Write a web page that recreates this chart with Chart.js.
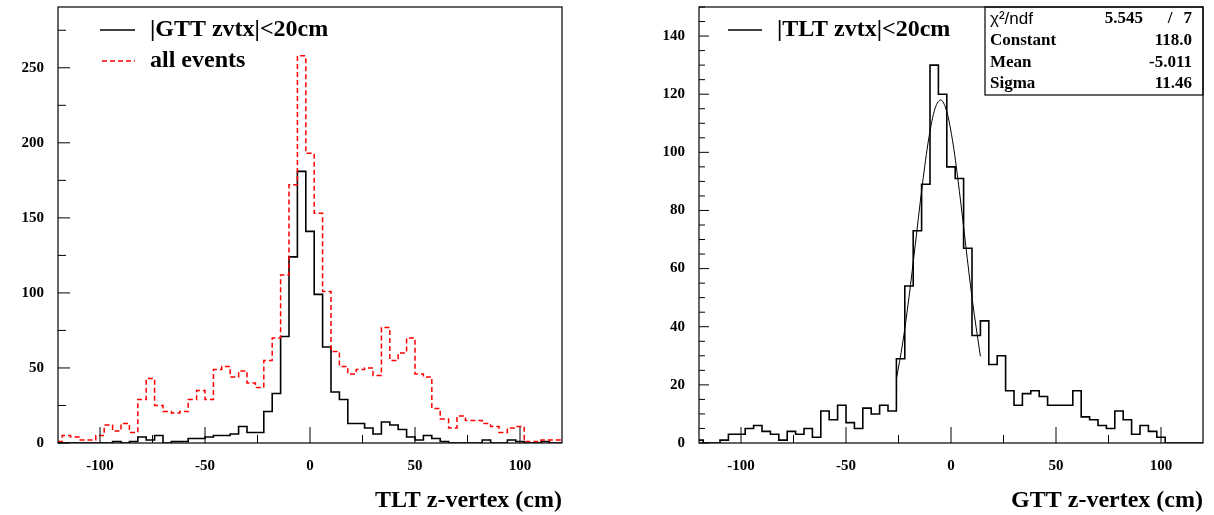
<!DOCTYPE html>
<html>
<head>
<meta charset="utf-8">
<script src="https://cdn.jsdelivr.net/npm/chart.js@4.4.1/dist/chart.umd.min.js"></script>
<style>
  html, body { margin: 0; padding: 0; background: #fff; }
  #wrap { display: flex; width: 1214px; height: 515px; }
  canvas { display: block; }
</style>
</head>
<body>
<div id="wrap">
  <canvas id="left" width="607" height="515"></canvas>
  <canvas id="right" width="607" height="515"></canvas>
</div>
<script>
// bin centres (cm), 4 cm bins
const binCenters = [
  -120,-116,-112,-108,-104,-100,-96,-92,-88,-84,-80,-76,-72,-68,-64,-60,-56,-52,-48,-44,-40,
  -36,-32,-28,-24,-20,-16,-12,-8,-4,0,4,8,12,16,20,24,28,32,36,40,
  44,48,52,56,60,64,68,72,76,80,84,88,92,96,100,104,108,112,116,120
];

// left: TLT z-vertex
const gttCut = [
  0,0,0,0,0,0,0,1,0,1,4,2,5,0,1,1,3,3,4,5,5,
  6,11,7,7,21,33,71,124,181,141,99,64,34,29,13,13,10,6,14,12,
  9,4,2,5,3,1,0,0,0,0,2,0,0,2,1,0,0,1,0,0
];
const allEvents = [
  1,5,4,2,2,5,12,8,13,7,29,43,25,21,20,21,29,35,29,49,51,
  44,48,40,37,55,70,112,172,258,193,153,101,61,51,46,49,50,45,77,55,
  60,70,46,44,23,16,10,18,15,15,13,11,7,10,11,1,1,2,2,2
];

// right: GTT z-vertex
const tltCut = [
  1,0,0,1,3,3,5,6,4,3,1,4,3,5,2,11,8,13,7,5,12,
  10,13,11,29,54,73,89,130,120,95,91,67,37,42,27,30,18,13,17,18,
  16,13,13,13,18,9,8,6,5,11,8,3,6,4,2,0,0,0,0,0
];

// gaussian fit curve as drawn
const fitX = [-26,-23,-20,-17,-14,-11,-8,-5,-2,1,4,7,10,14];
const fitY = [22,34.4,50.2,68.3,86.7,102.9,114.1,118,114,102.8,86.6,68.1,50,29.8];

const xTicks = [-100,-50,0,50,100];
const leftYTicks = [0,50,100,150,200,250];
const rightYTicks = [0,20,40,60,80,100,120,140];

const fitStats = [["Constant","118.0"],["Mean","-5.011"],["Sigma","11.46"]];
const chi2 = "5.545", ndf = "7";

const SERIF = '"Liberation Serif", "Times New Roman", serif';
const SANS = '"Liberation Sans", Arial, sans-serif';

function histPoints(values) {
  const pts = binCenters.map((c, i) => ({ x: Math.max(c - 2, -120), y: values[i] }));
  pts.push({ x: 120, y: values[values.length - 1] });
  return pts;
}

function line(ctx, x1, y1, x2, y2) {
  ctx.beginPath();
  ctx.moveTo(x1, y1);
  ctx.lineTo(x2, y2);
  ctx.stroke();
}

// ROOT style frame, inward ticks, legend and stats box
const rootFrame = {
  id: "rootFrame",
  afterDraw(chart, args, o) {
    const { ctx, chartArea: a, scales: { x, y } } = chart;
    ctx.save();
    ctx.strokeStyle = "#000";
    ctx.lineWidth = 1.2;
    ctx.setLineDash([]);
    ctx.strokeRect(a.left, a.top, a.right - a.left, a.bottom - a.top);

    ctx.lineWidth = 1;
    for (let v = -100; v <= 100; v += 25) {
      const px = x.getPixelForValue(v);
      line(ctx, px, a.bottom, px, a.bottom - (v % 50 === 0 ? 16 : 8));
    }
    for (let v = 0; v <= y.max; v += o.yMinor) {
      const py = y.getPixelForValue(v);
      line(ctx, a.left, py, a.left + (v % o.yMajor === 0 ? o.majorLen : o.minorLen), py);
    }

    ctx.font = "bold 24px " + SERIF;
    ctx.textBaseline = "middle";
    ctx.fillStyle = "#000";
    o.legend.forEach(it => {
      ctx.strokeStyle = it.color;
      ctx.lineWidth = 1.5;
      ctx.setLineDash(it.dash || []);
      line(ctx, it.x1, it.y, it.x2, it.y);
      ctx.setLineDash([]);
      ctx.textAlign = "left";
      ctx.fillText(it.label, it.tx, it.y);
    });

    if (o.stats) {
      const s = o.stats;
      ctx.strokeStyle = "#000";
      ctx.lineWidth = 1.2;
      ctx.strokeRect(s.left, a.top, a.right - s.left, s.bottom - a.top);
      ctx.textAlign = "left";
      ctx.font = "17px " + SANS;
      ctx.fillText("χ²/ndf", s.left + 5, 19);
      ctx.font = "bold 17px " + SERIF;
      ctx.textAlign = "right";
      ctx.fillText(chi2, 536, 19);
      ctx.fillText(ndf, 585, 19);
      ctx.textAlign = "center";
      ctx.fillText("/", 563, 19);
      fitStats.forEach((r, i) => {
        const yy = 41 + i * 21.5;
        ctx.textAlign = "left";
        ctx.fillText(r[0], s.left + 5, yy);
        ctx.textAlign = "right";
        ctx.fillText(r[1], 585, yy);
      });
    }
    ctx.restore();
  }
};

function makeScales(title, yMax, yTicks, yWidth) {
  const tickFont = { family: SERIF, size: 15, weight: "bold" };
  return {
    x: {
      type: "linear", min: -120, max: 120,
      afterBuildTicks: s => { s.ticks = xTicks.map(v => ({ value: v })); },
      afterFit: s => { s.height = 72; s.paddingLeft = 0; s.paddingRight = 0; },
      grid: { display: false, drawTicks: false },
      border: { display: false },
      ticks: { padding: 14, color: "#000", font: tickFont, maxRotation: 0, autoSkip: false },
      title: { display: true, text: title, align: "end", color: "#000",
        font: { family: SERIF, size: 24, weight: "bold" }, padding: { top: 0, bottom: 0 } }
    },
    y: {
      min: 0, max: yMax,
      afterBuildTicks: s => { s.ticks = yTicks.map(v => ({ value: v })); },
      afterFit: s => { s.width = yWidth; s.paddingTop = 0; s.paddingBottom = 0; },
      grid: { display: false, drawTicks: false },
      border: { display: false },
      ticks: { padding: 14, color: "#000", font: tickFont, autoSkip: false }
    }
  };
}

const common = {
  responsive: false,
  animation: false,
  devicePixelRatio: 1,
  parsing: false,
  elements: { point: { radius: 0 } }
};

new Chart(document.getElementById("left"), {
  type: "line",
  data: {
    datasets: [
      { data: histPoints(allEvents), stepped: true, borderColor: "#ff0000", borderWidth: 1.5, borderDash: [5, 3], fill: false },
      { data: histPoints(gttCut), stepped: true, borderColor: "#000", borderWidth: 1.6, fill: false }
    ]
  },
  options: {
    ...common,
    layout: { padding: { top: 7, right: 45, left: 0, bottom: 0 } },
    plugins: {
      legend: { display: false },
      tooltip: { enabled: false },
      rootFrame: {
        yMinor: 25, yMajor: 50, majorLen: 12, minorLen: 8,
        legend: [
          { label: "|GTT zvtx|<20cm", color: "#000", x1: 100, x2: 135, y: 30, tx: 150 },
          { label: "all events", color: "#ff0000", dash: [5, 3], x1: 102, x2: 135, y: 61, tx: 150 }
        ]
      }
    },
    scales: makeScales("TLT z-vertex (cm)", 290.5, leftYTicks, 58)
  },
  plugins: [rootFrame]
});

new Chart(document.getElementById("right"), {
  type: "line",
  data: {
    datasets: [
      { data: histPoints(tltCut), stepped: true, borderColor: "#000", borderWidth: 1.6, fill: false },
      { data: fitX.map((v, i) => ({ x: v, y: fitY[i] })), borderColor: "#000", borderWidth: 1,
        cubicInterpolationMode: "monotone", fill: false }
    ]
  },
  options: {
    ...common,
    layout: { padding: { top: 7, right: 11, left: 0, bottom: 0 } },
    plugins: {
      legend: { display: false },
      tooltip: { enabled: false },
      rootFrame: {
        yMinor: 5, yMajor: 20, majorLen: 10, minorLen: 6,
        legend: [
          { label: "|TLT zvtx|<20cm", color: "#000", x1: 121, x2: 155, y: 30, tx: 170 }
        ],
        stats: { left: 378, bottom: 95 }
      }
    },
    scales: makeScales("GTT z-vertex (cm)", 150, rightYTicks, 92)
  },
  plugins: [rootFrame]
});
</script>
</body>
</html>
